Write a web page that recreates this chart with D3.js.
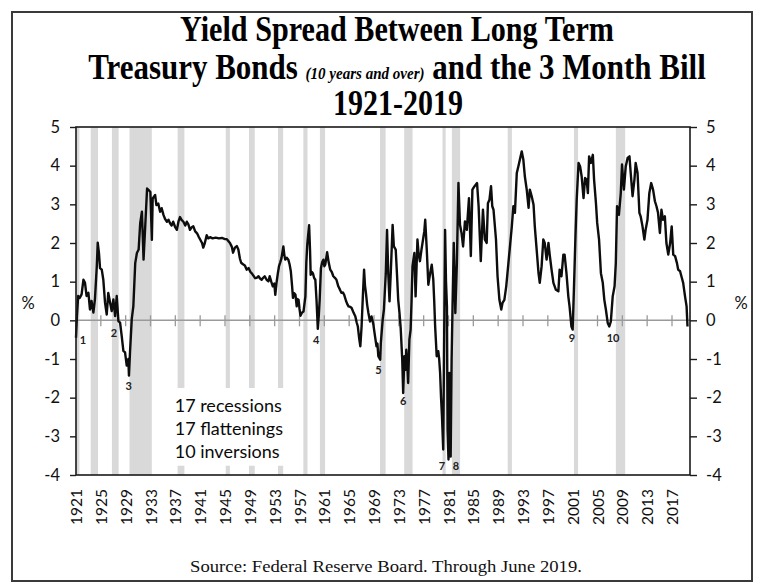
<!DOCTYPE html>
<html><head><meta charset="utf-8">
<script src="https://cdn.jsdelivr.net/npm/d3@7"></script>
<style>body{margin:0;background:#fff}</style>
</head><body>
<svg id="c" width="770" height="588"></svg>
<script>
// ---------- data ----------
const years = [
1921.0,1921.15,1921.35,1921.6,1921.9,1922.2,1922.45,1922.7,1923.0,1923.25,1923.5,1923.8,1924.05,1924.35,1924.5,1924.7,1924.87,
1925.15,1925.4,1925.68,1925.95,1926.2,1926.5,1926.75,1927.02,1927.3,1927.56,1927.83,1928.1,1928.36,1928.63,1928.9,
1929.17,1929.43,1929.53,1929.7,1929.98,1930.24,1930.54,1930.81,1931.09,1931.34,1931.62,1931.88,1932.15,1932.45,1932.7,1932.98,
1933.22,1933.35,1933.75,1933.95,1934.25,1934.55,1934.8,1935.1,1935.35,1935.65,1935.9,1936.15,1936.4,1936.65,1936.95,
1937.25,1937.5,1937.75,1938.0,1938.3,1938.6,1938.85,1939.1,1939.36,1939.6,1939.9,1940.2,1940.5,1940.8,1941.0,1941.3,1941.5,1941.75,
1942.05,1942.3,1942.6,1943.0,1943.5,1944.0,1944.5,1945.0,1945.3,1945.8,1946.1,1946.3,1946.6,1946.9,1947.15,1947.4,1947.6,1947.9,
1948.2,1948.5,1948.8,1949.1,1949.35,1949.6,1949.85,1950.1,1950.4,1950.65,1950.9,1951.15,1951.4,1951.7,1952.0,1952.2,1952.45,1952.7,1952.95,
1953.1,1953.3,1953.5,1953.7,1953.9,1954.1,1954.4,1954.55,1954.7,1954.95,1955.2,1955.4,1955.6,1955.8,1955.95,1956.15,1956.35,1956.55,1956.7,1956.85,
1957.0,1957.15,1957.4,1957.65,1957.95,1958.1,1958.25,1958.55,1958.7,1958.8,1959.0,1959.15,1959.35,1959.55,1959.75,1959.95,
1960.1,1960.25,1960.45,1960.65,1960.85,1961.0,1961.15,1961.3,1961.45,1961.7,1961.95,1962.2,1962.45,1962.7,1962.95,1963.25,1963.5,1963.75,
1964.0,1964.2,1964.5,1964.7,1964.9,1965.15,1965.4,1965.7,1966.0,1966.2,1966.4,1966.6,1966.8,1967.0,1967.2,1967.4,1967.55,1967.7,1967.9,
1968.1,1968.36,1968.6,1968.9,1969.16,1969.4,1969.55,1969.7,1970.0,1970.1,1970.4,1970.6,1970.9,1971.1,1971.3,1971.5,1971.7,
1972.0,1972.2,1972.5,1972.7,1972.9,1973.1,1973.3,1973.55,1973.7,1973.9,1974.1,1974.2,1974.35,1974.5,1974.7,1974.9,
1975.05,1975.2,1975.5,1975.7,1976.0,1976.2,1976.4,1976.65,1976.9,1977.1,1977.25,1977.5,1977.75,1978.05,1978.3,1978.55,1978.7,1978.85,
1979.1,1979.35,1979.5,1979.65,1979.8,1979.95,1980.15,1980.3,1980.45,1980.6,1980.75,1980.85,1981.0,1981.15,1981.35,1981.5,1981.65,1981.85,
1982.1,1982.35,1982.6,1982.85,1983.1,1983.35,1983.65,1983.95,1984.3,1984.6,1984.85,1985.2,1985.6,1985.85,1986.2,1986.55,1986.85,
1987.15,1987.35,1987.6,1987.85,1988.05,1988.25,1988.65,1988.9,1989.2,1989.5,1989.7,1990.0,1990.3,1990.5,1990.8,1991.2,1991.45,1991.7,
1992.0,1992.25,1992.5,1992.8,1993.05,1993.3,1993.6,1993.9,1994.1,1994.4,1994.7,1994.9,1995.2,1995.5,1995.7,1996.0,1996.27,1996.5,1996.8,
1997.1,1997.3,1997.6,1997.9,1998.3,1998.7,1998.9,1999.2,1999.5,1999.7,2000.0,2000.3,2000.5,2000.8,2001.0,2001.2,2001.45,2001.65,2001.95,
2002.2,2002.45,2002.75,2003.0,2003.25,2003.45,2003.65,2003.95,2004.25,2004.45,2004.75,2004.95,2005.25,2005.55,2005.85,2006.1,2006.35,2006.65,2006.9,
2007.15,2007.45,2007.75,2007.95,2008.15,2008.45,2008.75,2008.95,2009.25,2009.55,2009.85,2010.15,2010.35,2010.65,2010.95,2011.15,2011.45,2011.75,2011.95,
2012.25,2012.55,2012.75,2013.05,2013.35,2013.65,2013.95,2014.25,2014.5,2014.75,2015.05,2015.3,2015.55,2015.85,2016.1,2016.4,2016.7,2016.95,
2017.2,2017.5,2017.8,2018.0,2018.3,2018.6,2018.8,2019.1,2019.35,2019.5
];
const spread = [
-0.45,0.1,0.63,0.58,0.67,1.05,0.97,0.63,0.71,0.28,0.5,0.2,0.54,1.4,2.01,1.74,1.35,
1.31,1.05,0.45,0.15,0.71,0.45,0.24,0.54,0.11,0.63,-0.02,-0.06,-0.4,-0.79,-0.83,
-1.17,-1.0,-1.43,-0.83,0.03,0.37,1.48,1.74,1.83,2.51,2.81,1.57,2.43,3.41,3.37,3.32,
2.08,3.15,3.24,2.98,3.02,2.81,2.9,2.72,2.62,2.55,2.6,2.51,2.45,2.55,2.42,
2.34,2.55,2.67,2.6,2.55,2.45,2.55,2.48,2.34,2.4,2.43,2.3,2.25,2.15,2.09,2.0,1.88,2.0,
2.2,2.12,2.15,2.12,2.14,2.12,2.13,2.1,2.1,2.0,1.9,1.75,1.88,1.92,1.83,1.6,1.49,1.45,
1.42,1.31,1.35,1.25,1.21,1.15,1.09,1.1,1.14,1.08,1.05,1.1,1.14,1.05,1.01,1.14,1.0,0.88,0.95,
0.66,0.97,1.2,1.4,1.5,1.61,1.91,1.7,1.57,1.62,1.57,1.45,1.27,0.9,0.58,0.7,0.66,0.36,0.55,0.53,
0.3,0.12,0.2,0.23,0.62,1.5,1.96,2.46,1.8,1.18,1.25,1.22,1.1,1.05,0.5,-0.22,
0.1,0.53,1.35,1.5,1.57,1.4,1.44,1.6,1.76,1.5,1.31,1.25,1.14,1.1,1.05,0.88,0.8,0.71,
0.72,0.66,0.5,0.42,0.36,0.35,0.32,0.2,0.1,-0.05,-0.16,-0.45,-0.67,-0.16,0.6,1.31,0.9,0.71,0.4,
0.19,-0.03,0.1,-0.11,-0.41,-0.67,-0.6,-0.93,-1.02,-0.59,0.02,0.28,1.22,2.34,1.2,0.49,1.22,
2.47,1.91,1.83,1.2,0.53,0.2,-0.2,-1.02,-1.88,-0.93,-1.28,-0.76,-1.1,-1.62,-0.5,-0.24,
0.5,1.4,1.74,0.62,2.09,1.7,1.53,1.83,2.09,2.3,2.6,1.83,0.92,1.22,1.44,1.05,0.5,-0.16,
-0.93,-0.8,-1.0,-1.36,-2.0,-2.48,-3.34,-0.5,2.34,1.0,0.36,-2.83,-3.6,-1.36,-3.52,-1.02,0.36,2.0,
0.19,1.48,3.55,2.47,2.26,1.91,2.56,2.34,3.16,1.66,3.38,3.47,3.55,2.95,1.53,2.86,2.09,
2.0,3.03,3.12,3.47,2.95,2.86,2.09,1.14,0.53,0.28,0.45,0.53,0.88,1.22,1.74,2.43,2.95,2.78,
3.81,3.98,4.16,4.37,4.16,3.72,3.38,2.91,3.38,3.21,2.99,2.43,1.83,1.22,0.97,1.4,2.09,2.0,1.57,
2.0,1.7,1.31,0.97,0.79,0.75,1.31,1.14,1.7,1.7,1.22,0.62,0.36,-0.16,-0.24,0.79,2.17,3.12,4.07,
3.98,3.72,3.16,3.68,3.64,3.29,4.24,4.07,4.28,3.64,3.03,2.52,2.09,1.22,0.97,0.53,0.28,-0.07,-0.16,
-0.03,0.62,0.88,1.48,2.95,2.73,3.29,4.03,3.38,3.98,4.2,4.24,3.81,3.21,3.64,4.07,3.81,2.78,2.69,
2.43,2.09,2.34,2.6,3.29,3.55,3.38,3.08,2.95,2.78,2.26,2.86,2.6,2.69,2.0,1.7,2.0,2.43,
1.7,1.66,1.48,1.31,1.27,1.09,0.97,0.62,0.36,-0.16
];
const recessionStart = [1920.0,1923.37,1926.79,1929.62,1937.37,1945.12,1948.87,1953.54,1957.62,1960.29,1969.96,1973.87,1980.04,1981.54,1990.54,2001.21,2007.96];
const recessionEnd   = [1921.55,1924.54,1927.87,1933.21,1938.46,1945.79,1949.79,1954.37,1958.29,1961.12,1970.87,1975.21,1980.54,1982.87,1991.21,2001.87,2009.46];
const xLabelYears = [1921,1925,1929,1933,1937,1941,1945,1949,1953,1957,1961,1965,1969,1973,1977,1981,1985,1989,1993,1997,2001,2005,2009,2013,2017];
const zeroTickYears = [1925,1929,1933,1937,1941,1945,1949,1953,1957,1961,1965,1969,1973,1977,1981,1985,1989,1993,1997,2001,2005,2009,2013,2017];
const yTicks = [-4,-3,-2,-1,0,1,2,3,4,5];
const inversionNames = ["1","2","3","4","5","6","7","8","9","10"];
const inversionYears = [1922.1,1927.1,1929.5,1959.7,1969.7,1973.7,1979.95,1982.2,2000.9,2007.5];
const inversionVals  = [-0.5,-0.32,-1.69,-0.5,-1.3,-2.1,-3.78,-3.78,-0.47,-0.45];
const legendLines = ["17 recessions","17 flattenings","10 inversions"];
const titleLine1 = "Yield Spread Between Long Term";
const titleLine2a = "Treasury Bonds ";
const titleLine2b = "(10 years and over)";
const titleLine2c = " and the 3 Month Bill";
const titleLine3 = "1921-2019";
const sourceText = "Source: Federal Reserve Board. Through June 2019.";

// ---------- drawing ----------
const svg = d3.select("#c");
const sans = "Lato, 'Open Sans', sans-serif";
const serif = "'Liberation Serif','Times New Roman',serif";

const x = d3.scaleLinear().domain([1921, 2019.9]).range([76, 690]);
const y = d3.scaleLinear().domain([-4, 5]).range([475, 127]);

// outer border
svg.append("rect").attr("x",12).attr("y",12).attr("width",740).attr("height",569)
  .attr("fill","#fff").attr("stroke","#3a3a3a").attr("stroke-width",2);

// recession bands
const bands = recessionStart.map((s,i)=>({s:Math.max(s,1921), e:recessionEnd[i]}));
svg.append("g").selectAll("rect").data(bands).join("rect")
  .attr("x",d=>x(d.s)).attr("width",d=>x(d.e)-x(d.s))
  .attr("y",y(5)).attr("height",y(-4)-y(5))
  .attr("fill","#d9d9d9");

// white box behind legend
svg.append("rect").attr("x",x(1936.4)).attr("y",y(-1.75))
  .attr("width",x(1955.8)-x(1936.4)).attr("height",y(-3.76)-y(-1.75)).attr("fill","#fff");

// zero line + ticks
svg.append("line").attr("x1",x(1921)).attr("x2",x(2019.9)).attr("y1",y(0)).attr("y2",y(0))
  .attr("stroke","#9a9a9a").attr("stroke-width",1.5);
svg.append("g").selectAll("line").data(zeroTickYears).join("line")
  .attr("x1",d=>x(d)).attr("x2",d=>x(d)).attr("y1",y(0)-5).attr("y2",y(0)+6)
  .attr("stroke","#9a9a9a").attr("stroke-width",1.3);

// data line
const pts = years.map((t,i)=>[t,spread[i]]);
svg.append("path").datum(pts)
  .attr("d", d3.line().x(d=>x(d[0])).y(d=>y(d[1])))
  .attr("fill","none").attr("stroke","#0d0d0d").attr("stroke-width",2.4)
  .attr("stroke-linejoin","round");

// frame
svg.append("rect").attr("x",x(1921)).attr("y",y(5)).attr("width",x(2019.9)-x(1921)).attr("height",y(-4)-y(5))
  .attr("fill","none").attr("stroke","#1a1a1a").attr("stroke-width",1.6);

// y axes
const fmt = d => String(d);
const la = svg.append("g").attr("transform",`translate(${x(1921)},0)`)
  .call(d3.axisLeft(y).tickValues(yTicks).tickSize(6).tickSizeOuter(0).tickPadding(10).tickFormat(fmt));
const ra = svg.append("g").attr("transform",`translate(${x(2019.9)},0)`)
  .call(d3.axisRight(y).tickValues(yTicks).tickSize(7).tickSizeOuter(0).tickPadding(9).tickFormat(fmt));
[la,ra].forEach(g=>{
  g.select(".domain").remove();
  g.selectAll("line").attr("stroke","#1a1a1a").attr("stroke-width",1.4);
  g.selectAll("text").attr("font-family",sans).attr("font-size",16.5).attr("fill","#111");
});

// x labels
const xa = svg.append("g").attr("transform",`translate(0,${y(-4)})`)
  .call(d3.axisBottom(x).tickValues(xLabelYears).tickSize(0).tickFormat(d3.format("d")));
xa.select(".domain").remove();
xa.selectAll("text").attr("transform","rotate(-90)").attr("text-anchor","end")
  .attr("x",-14).attr("y",0).attr("dy","0.36em")
  .attr("font-family",sans).attr("font-size",15.5).attr("fill","#111");

// % labels
svg.append("text").attr("x",28).attr("y",y(0.45)).attr("text-anchor","middle").attr("dy","0.35em")
  .attr("font-family",sans).attr("font-size",16.5).attr("fill","#111").text("%");
svg.append("text").attr("x",741).attr("y",y(0.45)).attr("text-anchor","middle").attr("dy","0.35em")
  .attr("font-family",sans).attr("font-size",16.5).attr("fill","#111").text("%");

// inversion labels
svg.append("g").selectAll("text").data(inversionNames).join("text")
  .attr("x",(d,i)=>x(inversionYears[i])).attr("y",(d,i)=>y(inversionVals[i]))
  .attr("text-anchor","middle").attr("dy","0.35em")
  .attr("font-family",sans).attr("font-weight","bold").attr("font-size",11).attr("fill","#222")
  .text(d=>d);

// legend text
svg.append("g").selectAll("text").data(legendLines).join("text")
  .attr("x",x(1936.9)).attr("y",(d,i)=>y(-2.2 - i*0.6))
  .attr("dy","0.35em").attr("font-family",sans).attr("font-size",18).attr("fill","#0a0a0a")
  .text(d=>d);

// title with horizontal fitting
function fit(sel, cx, target){
  const w = sel.node().getBBox().width;
  const s = target / w;
  sel.attr("transform",`translate(${cx},0) scale(${s},1) translate(${-cx},0)`);
}
const t1 = svg.append("text").attr("x",397).attr("y",41).attr("text-anchor","middle")
  .attr("font-family",serif).attr("font-weight","bold").attr("font-size",35).attr("fill","#000").text(titleLine1);
fit(t1,397,434);
const t2 = svg.append("text").attr("x",397).attr("y",79).attr("text-anchor","middle")
  .attr("font-family",serif).attr("font-weight","bold").attr("font-size",35).attr("fill","#000");
t2.append("tspan").text(titleLine2a);
t2.append("tspan").attr("font-size",17).attr("font-style","italic").text(titleLine2b);
t2.append("tspan").text(titleLine2c);
fit(t2,397,618);
const t3 = svg.append("text").attr("x",398).attr("y",115).attr("text-anchor","middle")
  .attr("font-family",serif).attr("font-weight","bold").attr("font-size",35).attr("fill","#000").text(titleLine3);
fit(t3,398,130);

// source
const src = svg.append("text").attr("x",386).attr("y",572).attr("text-anchor","middle")
  .attr("font-family",serif).attr("font-size",17).attr("fill","#111").text(sourceText);
fit(src,386,392);
</script>
</body></html>
